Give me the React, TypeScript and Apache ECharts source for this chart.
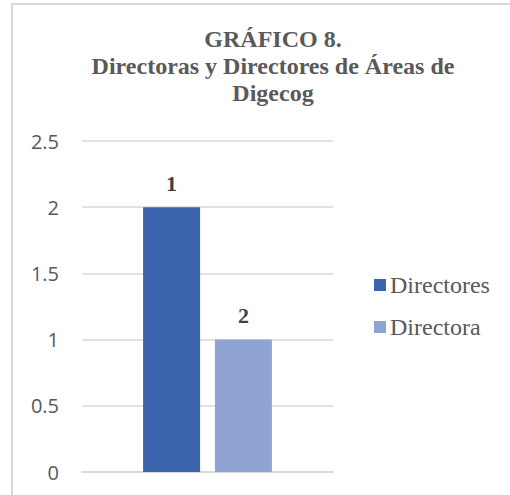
import React, { useEffect, useRef } from "react";
import * as echarts from "echarts";

const titleLines = ["GRÁFICO 8.", "Directoras y Directores de Áreas de", "Digecog"];
const categories = [""];
const seriesNames = ["Directores", "Directora"];
const seriesValues = [[2], [1]];
const seriesLabels = ["1", "2"];
const seriesColors = ["#3c64ad", "#8fa4d5"];
const yMin = 0;
const yMax = 2.5;
const yInterval = 0.5;

export default function App() {
  const ref = useRef<HTMLDivElement>(null);
  useEffect(() => {
    if (!ref.current) return;
    const chart = echarts.init(ref.current, null, { renderer: "svg" });
    const serif = "'Liberation Serif', 'Times New Roman', serif";
    chart.setOption({
      animation: false,
      backgroundColor: "#ffffff",
      title: {
        text: titleLines.join("\n"),
        left: 268,
        top: 20,
        textAlign: "center",
        textStyle: {
          fontFamily: serif,
          fontWeight: "bold",
          fontSize: 24,
          lineHeight: 27,
          color: "#595959",
        },
      },
      legend: {
        orient: "vertical",
        left: 369,
        top: 266,
        itemWidth: 12,
        itemHeight: 12,
        itemGap: 14,
        icon: "rect",
        textStyle: { fontFamily: serif, fontSize: 24, lineHeight: 28, color: "#595959", padding: [0, 0, 0, -1] },
        data: seriesNames,
      },
      grid: { left: 82, right: 177, top: 141, bottom: 23, containLabel: false },
      xAxis: {
        type: "category",
        data: categories,
        axisLine: { show: true, lineStyle: { color: "#d9d9d9", width: 2 } },
        axisTick: { show: false },
        axisLabel: { show: false },
      },
      yAxis: {
        type: "value",
        min: yMin,
        max: yMax,
        interval: yInterval,
        axisLine: { show: false },
        axisTick: { show: false },
        splitLine: { lineStyle: { color: "#d9d9d9", width: 1.5 } },
        axisLabel: {
          margin: 23,
          fontFamily: "'Open Sans', sans-serif",
          fontSize: 20,
          color: "#595959",
        },
      },
      series: seriesNames.map((name, i) => ({
        name,
        type: "bar",
        data: seriesValues[i],
        barWidth: 57,
        barGap: "26%",
        itemStyle: { color: seriesColors[i] },
        label: {
          show: true,
          position: "top",
          distance: 13,
          formatter: () => seriesLabels[i],
          fontFamily: serif,
          fontWeight: "bold",
          fontSize: 22,
          color: "#404040",
        },
      })),
      graphic: [
        {
          type: "line",
          shape: { x1: 12, y1: 4, x2: 12, y2: 495 },
          style: { stroke: "#d9d9d9", lineWidth: 2 },
        },
        {
          type: "line",
          shape: { x1: 11, y1: 4, x2: 510, y2: 4 },
          style: { stroke: "#d9d9d9", lineWidth: 2 },
        },
      ],
    });
    return () => chart.dispose();
  }, []);
  return (
    <div
      ref={ref}
      style={{ position: "fixed", left: 0, top: 0, width: 510, height: 495 }}
    />
  );
}
